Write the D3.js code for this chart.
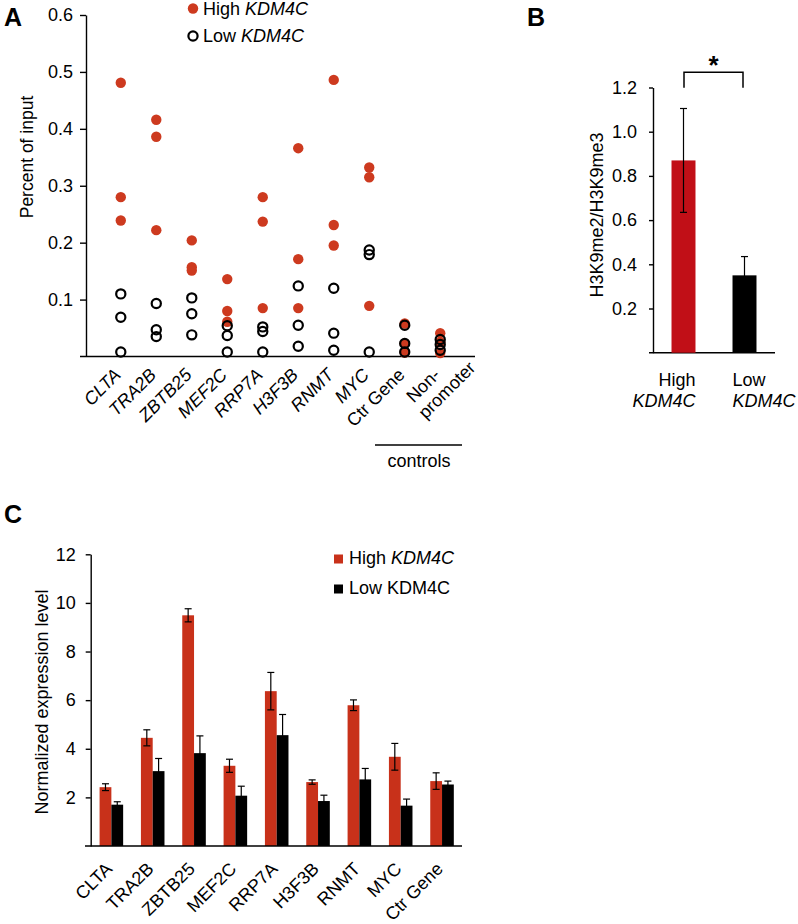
<!DOCTYPE html>
<html><head><meta charset="utf-8">
<script src="https://cdn.jsdelivr.net/npm/d3@7"></script>
<style>body{margin:0;background:#fff} svg{display:block;font-family:"Liberation Sans",Arial,sans-serif}</style>
</head><body><svg id="c" width="798" height="924"></svg>
<script>
// ---------- Data ----------
const genesA = ["CLTA","TRA2B","ZBTB25","MEF2C","RRP7A","H3F3B","RNMT","MYC","Ctr Gene","Non-promoter"];
const highA = [[0.481,0.280,0.239],[0.416,0.386,0.222],[0.204,0.157,0.151],[0.136,0.080,0.061],[0.280,0.237,0.085],[0.366,0.171,0.085],[0.486,0.231,0.195],[0.332,0.315,0.089],[0.058,0.023,0.007],[0.041,0.025,0.006]];
const lowA  = [[0.110,0.069,0.008],[0.093,0.047,0.035],[0.103,0.075,0.038],[0.054,0.037,0.008],[0.052,0.044,0.008],[0.124,0.055,0.018],[0.120,0.041,0.011],[0.187,0.179,0.008],[0.055,0.023,0.008],[0.030,0.021,0.011]];
const yTicksA = [0.1,0.2,0.3,0.4,0.5,0.6];

const groupsB = ["High","Low"];
const meansB = [0.87, 0.35];
const errsB = [0.235, 0.085];
const yTicksB = [0.2,0.4,0.6,0.8,1.0,1.2];

const genesC = ["CLTA","TRA2B","ZBTB25","MEF2C","RRP7A","H3F3B","RNMT","MYC","Ctr Gene"];
const highC = [2.42,4.45,9.49,3.30,6.37,2.63,5.79,3.67,2.67];
const highErrC = [0.14,0.33,0.27,0.27,0.77,0.09,0.22,0.55,0.34];
const lowC = [1.70,3.08,3.82,2.07,4.56,1.85,2.74,1.66,2.53];
const lowErrC = [0.12,0.52,0.71,0.39,0.85,0.24,0.45,0.27,0.14];
const yTicksC = [2,4,6,8,10,12];

// ---------- Styles ----------
const RED_A = "#cd3a1f", RED_B = "#c10f17", RED_C = "#c8311a";
const FS = 18;
const svg = d3.select("#c");

function styleAxis(g){
  g.attr("font-size", null).attr("font-family", null);
  g.selectAll("text").attr("font-size", FS).attr("fill","#000");
  g.selectAll("line,path").attr("stroke","#000").attr("stroke-width",1.4);
}

// ---------- Panel A ----------
const yA = d3.scaleLinear().domain([0,0.6]).range([356.5,15]);
const xA = d3.scalePoint().domain(genesA).range([86,475]).padding(0.98);
const gA = svg.append("g");
gA.append("text").attr("x",4).attr("y",26).attr("font-size",25).attr("font-weight","bold").text("A");
gA.append("g").attr("transform","translate(86,0)")
  .call(d3.axisLeft(yA).tickValues(yTicksA).tickFormat(d3.format(".1f")).tickSize(6).tickPadding(7).tickSizeOuter(0))
  .call(g=>styleAxis(g));
gA.append("line").attr("x1",80).attr("x2",475).attr("y1",356.5).attr("y2",356.5).attr("stroke","#000").attr("stroke-width",1.4);
gA.append("text").attr("transform","translate(33,157) rotate(-90)").attr("text-anchor","middle").attr("font-size",17.5).text("Percent of input");

genesA.forEach((g,i)=>{
  gA.selectAll(null).data(highA[i]).enter().append("circle")
    .attr("cx",xA(g)).attr("cy",d=>yA(d)).attr("r",5.2).attr("fill",RED_A);
});
genesA.forEach((g,i)=>{
  gA.selectAll(null).data(lowA[i]).enter().append("circle")
    .attr("cx",xA(g)).attr("cy",d=>yA(d)).attr("r",4.6).attr("fill","none").attr("stroke","#000").attr("stroke-width",2.2);
});
genesA.forEach((g,i)=>{
  const t = gA.append("g").attr("transform",`translate(${xA(g)+1},376) rotate(-45)`);
  if(g==="Non-promoter"){
    t.append("text").attr("text-anchor","end").attr("font-size",FS).text("Non-");
    t.append("text").attr("text-anchor","end").attr("x",30).attr("y",20).attr("font-size",FS).text("promoter");
  } else {
    t.append("text").attr("text-anchor","end").attr("font-size",FS)
      .attr("font-style", i<8 ? "italic" : "normal").text(g);
  }
});
gA.append("line").attr("x1",375).attr("x2",462).attr("y1",445).attr("y2",445).attr("stroke","#000").attr("stroke-width",1.6);
gA.append("text").attr("x",419).attr("y",467).attr("text-anchor","middle").attr("font-size",FS).text("controls");
// legend A
gA.append("circle").attr("cx",193).attr("cy",8.5).attr("r",5.2).attr("fill",RED_A);
gA.append("circle").attr("cx",193).attr("cy",36).attr("r",4.6).attr("fill","none").attr("stroke","#000").attr("stroke-width",2.2);
const la1 = gA.append("text").attr("x",203).attr("y",15).attr("font-size",FS);
la1.append("tspan").text("High ");
la1.append("tspan").attr("font-style","italic").text("KDM4C");
const la2 = gA.append("text").attr("x",203).attr("y",42).attr("font-size",FS);
la2.append("tspan").text("Low ");
la2.append("tspan").attr("font-style","italic").text("KDM4C");

// ---------- Panel B ----------
const yB = d3.scaleLinear().domain([0,1.2]).range([352.7,87.5]);
const xB = d3.scaleBand().domain(groupsB).range([653,775]).paddingInner(0.607).paddingOuter(0.3035);
const gB = svg.append("g");
gB.append("text").attr("x",527).attr("y",26).attr("font-size",25).attr("font-weight","bold").text("B");
gB.append("g").attr("transform","translate(653,0)")
  .call(d3.axisLeft(yB).tickValues(yTicksB).tickFormat(d3.format(".1f")).tickSize(4).tickPadding(12).tickSizeOuter(0))
  .call(g=>styleAxis(g));
gB.append("line").attr("x1",649).attr("x2",775).attr("y1",352.7).attr("y2",352.7).attr("stroke","#000").attr("stroke-width",1.4);
gB.append("text").attr("transform","translate(603,215) rotate(-90)").attr("text-anchor","middle").attr("font-size",FS).text("H3K9me2/H3K9me3");
gB.selectAll(null).data(groupsB).enter().append("rect")
  .attr("x",d=>xB(d)).attr("width",xB.bandwidth())
  .attr("y",(d,i)=>yB(meansB[i])).attr("height",(d,i)=>yB(0)-yB(meansB[i]))
  .attr("fill",(d,i)=>i===0?RED_B:"#000");
groupsB.forEach((d,i)=>{
  const cx = xB(d)+xB.bandwidth()/2;
  const y1 = yB(meansB[i]+errsB[i]), y2 = yB(meansB[i]-errsB[i]);
  gB.append("line").attr("x1",cx).attr("x2",cx).attr("y1",y1).attr("y2",y2).attr("stroke","#000").attr("stroke-width",1.2);
  [y1,y2].forEach(y=>gB.append("line").attr("x1",cx-3.5).attr("x2",cx+3.5).attr("y1",y).attr("y2",y).attr("stroke","#000").attr("stroke-width",1.2));
});
const bx1 = xB("High")+xB.bandwidth()/2+0.5, bx2 = xB("Low")+xB.bandwidth()/2-1.5;
gB.append("path").attr("d",`M${bx1},87.7V72.3H${bx2}V87.7`).attr("fill","none").attr("stroke","#000").attr("stroke-width",1.5);
gB.append("text").attr("x",(bx1+bx2)/2).attr("y",74).attr("text-anchor","middle").attr("font-size",26).attr("font-weight","bold").text("*");
const hb = gB.append("text").attr("font-size",FS).attr("text-anchor","end");
hb.append("tspan").attr("x",xB("High")+xB.bandwidth()).attr("y",386).text("High");
hb.append("tspan").attr("x",xB("High")+xB.bandwidth()).attr("y",407).attr("font-style","italic").text("KDM4C");
const lb = gB.append("text").attr("font-size",FS).attr("text-anchor","start");
lb.append("tspan").attr("x",xB("Low")).attr("y",386).text("Low");
lb.append("tspan").attr("x",xB("Low")).attr("y",407).attr("font-style","italic").text("KDM4C");

// ---------- Panel C ----------
const yC = d3.scaleLinear().domain([0,12]).range([846,554.3]);
const xC = d3.scaleBand().domain(genesC).range([90.7,462.7]).paddingInner(0.43).paddingOuter(0.215);
const xSub = d3.scaleBand().domain(["high","low"]).range([0,xC.bandwidth()]);
const gC = svg.append("g");
gC.append("text").attr("x",4).attr("y",523).attr("font-size",25).attr("font-weight","bold").text("C");
gC.append("g").attr("transform","translate(90.7,0)")
  .call(d3.axisLeft(yC).tickValues(yTicksC).tickSize(5).tickPadding(10).tickSizeOuter(0))
  .call(g=>styleAxis(g));
gC.append("text").attr("transform","translate(48,702) rotate(-90)").attr("text-anchor","middle").attr("font-size",FS).text("Normalized expression level");
const series = [{k:"high",v:highC,e:highErrC,c:RED_C},{k:"low",v:lowC,e:lowErrC,c:"#000"}];
series.forEach(s=>{
  gC.selectAll(null).data(genesC).enter().append("rect")
    .attr("x",d=>xC(d)+xSub(s.k)).attr("width",xSub.bandwidth())
    .attr("y",(d,i)=>yC(s.v[i])).attr("height",(d,i)=>yC(0)-yC(s.v[i]))
    .attr("fill",s.c);
});
series.forEach(s=>{
  genesC.forEach((d,i)=>{
    const cx = xC(d)+xSub(s.k)+xSub.bandwidth()/2;
    const y1 = yC(s.v[i]+s.e[i]), y2 = yC(s.v[i]-s.e[i]);
    gC.append("line").attr("x1",cx).attr("x2",cx).attr("y1",y1).attr("y2",y2).attr("stroke","#000").attr("stroke-width",1.2);
    [y1,y2].forEach(y=>gC.append("line").attr("x1",cx-3.5).attr("x2",cx+3.5).attr("y1",y).attr("y2",y).attr("stroke","#000").attr("stroke-width",1.2));
  });
});
gC.append("line").attr("x1",85).attr("x2",462).attr("y1",846).attr("y2",846).attr("stroke","#000").attr("stroke-width",1.4);
genesC.forEach(g=>{
  gC.append("g").attr("transform",`translate(${xC(g)+xC.bandwidth()/2+2},870) rotate(-45)`)
    .append("text").attr("text-anchor","end").attr("font-size",FS).text(g);
});
// legend C
gC.append("rect").attr("x",334).attr("y",554.5).attr("width",9).attr("height",9).attr("fill",RED_C);
gC.append("rect").attr("x",334).attr("y",584.5).attr("width",9).attr("height",9).attr("fill","#000");
const lc1 = gC.append("text").attr("x",349).attr("y",564).attr("font-size",FS);
lc1.append("tspan").text("High ");
lc1.append("tspan").attr("font-style","italic").text("KDM4C");
gC.append("text").attr("x",349).attr("y",594).attr("font-size",FS).text("Low KDM4C");
</script></body></html>
